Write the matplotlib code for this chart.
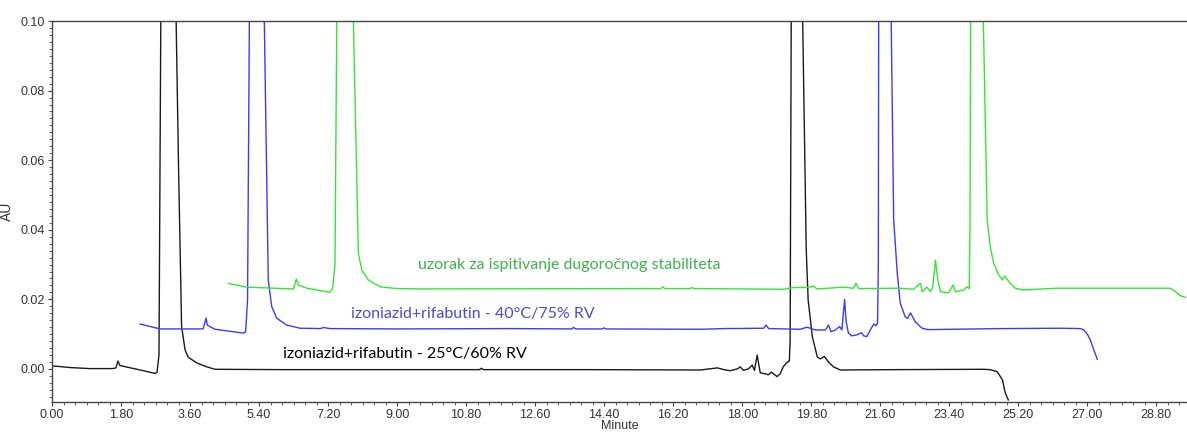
import matplotlib
matplotlib.use("Agg")
import matplotlib.pyplot as plt
from matplotlib.ticker import MultipleLocator, FormatStrFormatter

# retention time (min) / absorbance (AU) for each run
t_25 = [0.00, 0.47, 0.99, 1.57, 1.67, 1.72, 1.77, 1.93, 2.30, 2.69, 2.74, 2.79,
        2.84, 3.03, 3.23, 3.30, 3.38, 3.42, 3.47, 3.55, 3.78, 4.04, 4.25,
        6.00, 8.50, 11.15, 11.20, 11.25, 14.00, 16.91, 17.35, 17.56, 17.69,
        17.87, 17.95, 18.03, 18.16, 18.26, 18.32, 18.39, 18.47, 18.60, 18.68,
        18.76, 18.84, 18.91, 18.99, 19.07, 19.15, 19.23, 19.25, 19.28, 19.42,
        19.57, 19.67, 19.72, 19.83, 19.96, 20.04, 20.14, 20.25, 20.38, 20.56,
        22.00, 24.29, 24.47, 24.65, 24.79, 24.86, 24.94]
au_25 = [0.0009, 0.0004, 0.0001, 0.0001, 0.0003, 0.0023, 0.0010, 0.0006, -0.0003,
         -0.0013, -0.0009, 0.0040, 0.105, 0.8, 0.105, 0.058, 0.0121, 0.0092,
         0.0055, 0.0034, 0.0017, 0.0006, -0.0001, -0.0002, -0.0002, -0.0002,
         0.0002, -0.0002, -0.0002, -0.0003, 0.0003, -0.0003, -0.0005, 0.0000,
         0.0006, -0.0004, 0.0000, 0.0011, -0.0004, 0.0040, -0.0011, -0.0014,
         -0.0017, -0.0009, -0.0016, -0.0022, -0.0014, 0.0006, 0.0017, 0.0023,
         0.0083, 0.105, 0.8, 0.105, 0.0342, 0.0198, 0.0092, 0.0034, 0.0029,
         0.0036, 0.0020, 0.0006, -0.0003, -0.0002, -0.0001, -0.0002, -0.0008,
         -0.0032, -0.0069, -0.0089]

t_40 = [2.30, 2.82, 3.94, 4.02, 4.05, 4.25, 4.99, 5.05, 5.10, 5.15, 5.33, 5.53,
        5.64, 5.73, 5.86, 6.12, 6.47, 7.00, 7.08, 7.25, 9.00, 12.00, 13.55,
        13.60, 13.66, 14.35, 14.40, 14.45, 16.91, 17.55, 18.56, 18.62, 18.69,
        19.51, 19.69, 19.91, 20.17, 20.25, 20.32, 20.43, 20.54, 20.60, 20.67,
        20.71, 20.77, 20.86, 20.99, 21.11, 21.17, 21.25, 21.34, 21.43, 21.49,
        21.53, 21.55, 21.56, 21.72, 21.88, 21.95, 22.04, 22.12, 22.25, 22.31,
        22.39, 22.51, 22.69, 22.85, 24.73, 26.30, 26.82, 26.91, 27.00, 27.08,
        27.17, 27.26]
au_40 = [0.0129, 0.0115, 0.0115, 0.0146, 0.0126, 0.0114, 0.0103, 0.0107, 0.020,
         0.105, 0.8, 0.105, 0.0256, 0.0179, 0.0146, 0.0126, 0.0117, 0.0116,
         0.0119, 0.0116, 0.0115, 0.0116, 0.0115, 0.0119, 0.0115, 0.0115, 0.0118,
         0.0115, 0.0114, 0.0116, 0.0117, 0.0126, 0.0116, 0.0114, 0.0120, 0.0112,
         0.0112, 0.0126, 0.0107, 0.0112, 0.0122, 0.0112, 0.0200, 0.0136, 0.0103,
         0.0095, 0.0098, 0.0104, 0.0095, 0.0093, 0.0112, 0.0129, 0.0124, 0.0133,
         0.030, 0.105, 0.8, 0.105, 0.043, 0.028, 0.019, 0.0150, 0.0145, 0.0161,
         0.0136, 0.0117, 0.0113, 0.0116, 0.0117, 0.0116, 0.0112, 0.0100, 0.0083,
         0.0055, 0.0028]

t_sample = [4.60, 5.08, 6.30, 6.37, 6.43, 6.65, 7.25, 7.32, 7.38, 7.43, 7.64, 7.85,
            7.99, 8.08, 8.25, 8.56, 9.00, 9.60, 15.88, 15.93, 15.98, 16.64, 16.69,
            16.74, 19.08, 19.34, 19.69, 19.86, 19.95, 20.64, 20.90, 20.97, 21.04,
            22.12, 22.47, 22.65, 22.69, 22.82, 22.91, 22.97, 23.04, 23.10, 23.17,
            23.38, 23.50, 23.56, 23.78, 23.86, 23.92, 23.94, 23.96, 24.12, 24.28,
            24.39, 24.47, 24.56, 24.69, 24.78, 24.85, 24.95, 25.12, 25.34, 25.69,
            26.21, 29.17, 29.30, 29.43, 29.56]
au_sample = [0.0246, 0.0235, 0.0230, 0.0258, 0.0241, 0.0232, 0.0220, 0.0232, 0.030,
             0.105, 0.8, 0.105, 0.0332, 0.0284, 0.0256, 0.0236, 0.0231, 0.0230,
             0.0231, 0.0236, 0.0231, 0.0231, 0.0234, 0.0231, 0.0229, 0.0234, 0.0234,
             0.0238, 0.0230, 0.0235, 0.0232, 0.0246, 0.0231, 0.0232, 0.0229, 0.0246,
             0.0222, 0.0235, 0.0222, 0.0236, 0.0313, 0.0256, 0.0222, 0.0219, 0.0241,
             0.0222, 0.0227, 0.0236, 0.0231, 0.040, 0.105, 0.8, 0.105, 0.0428,
             0.0351, 0.0303, 0.0270, 0.0256, 0.0267, 0.0251, 0.0232, 0.0227, 0.0229,
             0.0232, 0.0232, 0.0222, 0.0210, 0.0206]

labels = ["izoniazid+rifabutin - 25°C/60% RV",
          "izoniazid+rifabutin - 40°C/75% RV",
          "uzorak za ispitivanje dugoročnog stabiliteta"]

fig = plt.figure(figsize=(11.87, 4.32), dpi=100)
ax = fig.add_axes([52 / 1187, 30 / 432, 1 - 52 / 1187, 381 / 432])

ax.plot(t_25, au_25, color='#1a1a1a', lw=1.0)
ax.plot(t_40, au_40, color='#3a3aff', lw=1.0)
ax.plot(t_sample, au_sample, color='#33e633', lw=1.0)

# run labels next to each baseline
ax.text(6.03, 0.0043, labels[0], color='black', fontsize=11.5, family='Lato', va='center')
ax.text(7.80, 0.0158, labels[1], color='#4b4bd9', fontsize=11.5, family='Lato', va='center')
ax.text(9.55, 0.0299, labels[2], color='#3cb44b', fontsize=11.5, family='Lato', va='center')

ax.set_xlim(0, 29.6)
ax.set_ylim(-0.0095, 0.10)
ax.xaxis.set_major_locator(MultipleLocator(1.8))
ax.xaxis.set_minor_locator(MultipleLocator(0.3))
ax.yaxis.set_major_locator(MultipleLocator(0.02))
ax.yaxis.set_minor_locator(MultipleLocator(0.002))
ax.xaxis.set_major_formatter(FormatStrFormatter('%.2f'))
ax.yaxis.set_major_formatter(FormatStrFormatter('%.2f'))

for side in ['left', 'bottom', 'top']:
    ax.spines[side].set_color('#444444')
    ax.spines[side].set_linewidth(1.0)
ax.spines['right'].set_visible(False)

ax.tick_params(which='major', length=3, width=0.8, color='#444444',
               labelsize=9, labelcolor='#333333', pad=2)
ax.tick_params(which='minor', length=2, width=0.6, color='#444444')
for lab in ax.get_xticklabels() + ax.get_yticklabels():
    lab.set_family('Liberation Sans')

ax.set_xlabel('Minute', fontsize=9, family='Liberation Sans', color='#333333', labelpad=-1)
ax.set_ylabel('AU', fontsize=10, family='Liberation Sans', color='#333333', labelpad=5)

plt.savefig('out.png', dpi=100)
